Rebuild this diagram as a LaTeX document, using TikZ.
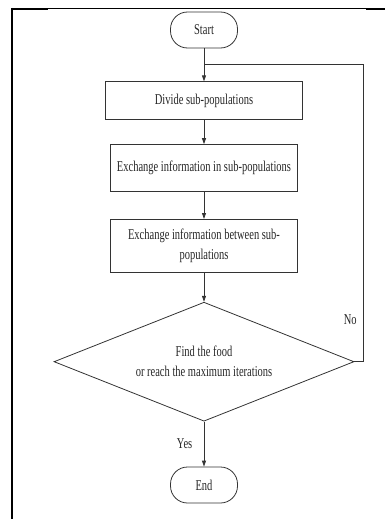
\documentclass[tikz,border=0pt]{standalone}
\usepackage{fontspec}
\setmainfont{Liberation Serif}[FakeStretch=0.7]
\usetikzlibrary{shapes.geometric, positioning, arrows.meta, calc}
\tikzset{
	>={Triangle[length=6pt, width=4pt]}, % Punta de flecha triangular
	every node/.style={font=\fontsize{15}{20}\selectfont, text=black!85}, % Texto de los nodos
	terminal/.style={draw=black!80, line width=0.8pt, rounded corners=17pt, minimum width=67pt, minimum height=36pt, inner sep=0pt}, % Inicio y fin
	process/.style={draw=black!80, line width=0.8pt, minimum width=187pt, inner sep=0pt, align=center}, % Cajas de proceso
	decision/.style={draw=black!80, line width=0.8pt, diamond, aspect=2.52, minimum width=300pt, minimum height=119pt, inner sep=0pt, align=center}, % Rombo
	flow/.style={->, line width=0.8pt, draw=black!80} % Conectores
}

\begin{document}
\begin{tikzpicture}[x=1pt, y=-1pt]
	\useasboundingbox (0,0) rectangle (385,519);
	% marco
	\draw[line width=1pt] (11,8.6) -- (385,8.6);
	\draw[line width=2.2pt] (11,9) -- (48,9) (366,9) -- (385,9);
	\draw[line width=2.3pt] (12.2,7.9) -- (12.2,519);

	\node[terminal] (start) at (204,30) {Start};
	\node[process, below=33pt of start, minimum width=197pt, minimum height=38pt] (divide) {Divide sub-populations};
	\node[process, below=24pt of divide, minimum height=47pt] (exin) {Exchange information in sub-populations};
	\node[process, below=27pt of exin, minimum height=53pt] (exbet) {Exchange information between sub-\\populations};
	\node[decision, below=29pt of exbet] (decide) {Find the food\\or reach the maximum iterations};
	\node[terminal, below=45pt of decide] (end) {End};
	\coordinate (loop) at ($(start.south)!0.5!(divide.north)$);
	\coordinate[right=9pt of decide.east] (turn);

	\draw[flow] (start) -- (divide);
	\draw[flow] (divide) -- (exin);
	\draw[flow] (exin) -- (exbet);
	\draw[flow] (exbet) -- (decide);
	\draw[flow] (decide) -- node[left=8pt]{Yes} (end);
	\draw[line width=0.8pt, draw=black!80] (decide.east) -- (turn) |- node[pos=0.07, left=3pt]{No} (loop);
\end{tikzpicture}
\end{document}
